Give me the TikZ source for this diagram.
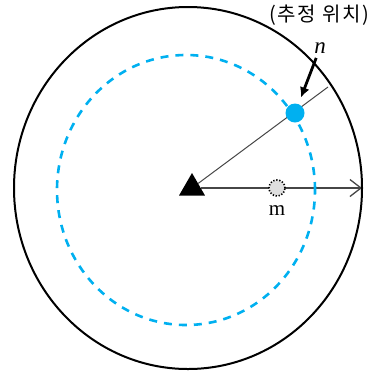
\documentclass[tikz,border=0pt]{standalone}
\usepackage{fontspec}
\setmainfont{Liberation Serif}
\newfontfamily\hangul[LetterSpace=8]{Noto Sans CJK KR}
\usetikzlibrary{arrows.meta,shapes.geometric,positioning,backgrounds}
\definecolor{skyblue}{RGB}{0,176,240}
\definecolor{linegray}{RGB}{70,70,70}

\begin{document}
\begin{tikzpicture}[x=1pt,y=-1pt,font=\fontsize{21}{24}\selectfont,>=Latex,
    marker/.style={circle,inner sep=0pt}]
  \useasboundingbox (0,0) rectangle (379,373);
  \coordinate (ctr) at (188,188);
  \coordinate (mid) at (186,190);
  \draw[line width=2pt] (ctr) ellipse [x radius=174pt, y radius=181pt];
  \draw[skyblue,line width=2.6pt,dash pattern=on 8pt off 7pt]
    (mid) ellipse [x radius=129pt, y radius=135pt];
  \node[regular polygon,regular polygon sides=3,fill=black,inner sep=0pt,
    minimum size=30pt] (base) at (192,188) {};
  \coordinate (rim) at (362,188);
  \coordinate (far) at (328,87);
  \node[marker,fill=skyblue,minimum size=19pt] (est) at (295,113) {};
  \node[marker,fill=gray!25,draw,line width=1.6pt,dash pattern=on 1.3pt off 1.7pt,
    minimum size=16pt] (true) at (277,188) {};
  \begin{scope}[on background layer]
    \draw[linegray,line width=1pt] (base) -- (far);
    \draw[linegray,line width=1.3pt,-{Straight Barb[length=11pt,width=17pt]}] (base) -- (rim);
  \end{scope}
  \node (mlab) [below=5pt of true] {m};
  \node (nlab) at (320,48) {\fontsize{23}{26}\selectfont\textit{n}};
  \node[font=\hangul\fontsize{20}{22}\selectfont] (tag) at (319,15) {(추정 위치)};
  \draw[line width=2.8pt,-{Latex[length=10pt,width=10pt]},shorten <=1pt,shorten >=7pt]
    (nlab) -- (est);
\end{tikzpicture}
\end{document}
